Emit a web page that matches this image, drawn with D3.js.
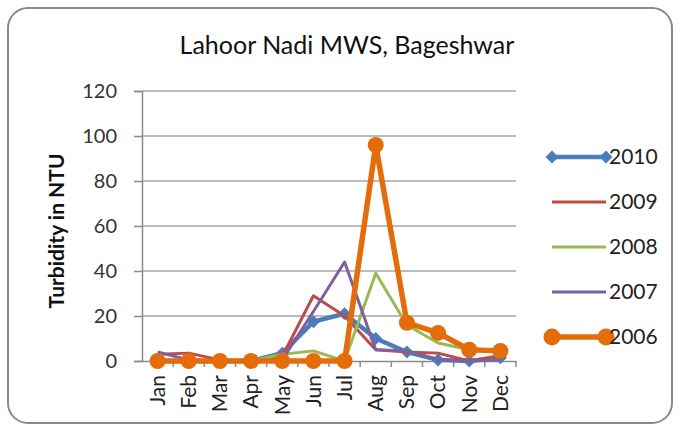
<!DOCTYPE html>
<html>
<head>
<meta charset="utf-8">
<script src="https://cdn.jsdelivr.net/npm/d3@7"></script>
<style>
  html, body { margin: 0; padding: 0; background: #fff; }
  svg { display: block; font-family: Lato, "Open Sans", sans-serif; }
</style>
</head>
<body>
<svg id="chart" width="681" height="428"></svg>
<script>
// Monthly turbidity (NTU)
const months = ['Jan', 'Feb', 'Mar', 'Apr', 'May', 'Jun', 'Jul', 'Aug', 'Sep', 'Oct', 'Nov', 'Dec'];
const yTicks = [0, 20, 40, 60, 80, 100, 120];

const v2010 = [0, 0, 0, 0, 3.5, 17.5, 21, 10, 4, 0.5, 0, 1.5];
const v2009 = [3, 3.5, 0.5, 0, 2, 29, 20, 5, 4, 3.5, 0, 2.5];
const v2008 = [0, 0, 0, 0, 3, 4.5, 0, 39, 16, 8, 5, 4];
const v2007 = [4, 0.5, 0, 0, 0.5, 22, 44, 5, 4.5, 0.5, 0, 0.5];
const v2006 = [0, 0, 0, 0, 0, 0, 0, 96, 17, 12.5, 5, 4.5];

const series = [
  { name: '2010', values: v2010, color: '#4a7ebb', width: 4.5, marker: 'diamond' },
  { name: '2009', values: v2009, color: '#be4b48', width: 3, marker: null },
  { name: '2008', values: v2008, color: '#98b954', width: 3, marker: null },
  { name: '2007', values: v2007, color: '#7d60a0', width: 3, marker: null },
  { name: '2006', values: v2006, color: '#e46c0a', width: 5.5, marker: 'circle' }
];

const svg = d3.select('#chart');
const m = { l: 142, r: 516, t: 91, b: 361 };
const font = 'Lato, "Open Sans", sans-serif';

// rounded frame
svg.append('rect')
  .attr('x', 8).attr('y', 8).attr('width', 664).attr('height', 415)
  .attr('rx', 20).attr('ry', 20)
  .attr('fill', '#fff').attr('stroke', '#8a8a8a').attr('stroke-width', 2);

svg.append('text')
  .attr('x', 347).attr('y', 54)
  .attr('text-anchor', 'middle')
  .attr('font-size', 25).attr('fill', '#111')
  .text('Lahoor Nadi MWS, Bageshwar');

const x = d3.scaleBand().domain(months).range([m.l, m.r]);
const y = d3.scaleLinear().domain([0, 120]).range([m.b, m.t]);

// gridlines
svg.append('g').selectAll('line')
  .data(yTicks.filter(d => d > 0))
  .join('line')
  .attr('x1', m.l).attr('x2', m.r)
  .attr('y1', d => y(d)).attr('y2', d => y(d))
  .attr('stroke', '#a6a6a6').attr('stroke-width', 1.5);

// y axis
const yAxis = svg.append('g')
  .attr('transform', `translate(${m.l},0)`)
  .call(d3.axisLeft(y).tickValues(yTicks).tickSize(8).tickPadding(17));
yAxis.select('.domain').attr('stroke', '#8a8a8a').attr('stroke-width', 1.5);
yAxis.selectAll('line').attr('stroke', '#8a8a8a').attr('stroke-width', 1.5);
yAxis.selectAll('text').attr('font-size', 20).attr('fill', '#333')
  .attr('font-family', font);

// x axis
const xAxis = svg.append('g')
  .attr('transform', `translate(0,${m.b})`)
  .call(d3.axisBottom(x).tickSize(0).tickPadding(0));
xAxis.select('.domain').attr('stroke', '#8a8a8a').attr('stroke-width', 1.5);
xAxis.selectAll('text')
  .attr('font-size', 21).attr('fill', '#222')
  .attr('font-family', font)
  .attr('transform', 'rotate(-90)')
  .attr('text-anchor', 'end')
  .attr('dy', '0.35em')
  .attr('x', -14).attr('y', 0);
// tick marks between categories
svg.append('g').selectAll('line')
  .data(months)
  .join('line')
  .attr('x1', d => x(d) + x.bandwidth())
  .attr('x2', d => x(d) + x.bandwidth())
  .attr('y1', m.b).attr('y2', m.b + 6)
  .attr('stroke', '#8a8a8a').attr('stroke-width', 1.5);

svg.append('text')
  .attr('transform', `translate(64,231) rotate(-90)`)
  .attr('text-anchor', 'middle')
  .attr('font-size', 21).attr('font-weight', 'bold').attr('fill', '#111')
  .text('Turbidity in NTU');

// series lines
const line = d3.line()
  .x((d, i) => x(months[i]) + x.bandwidth() / 2)
  .y(d => y(d));

const diamond = 'M0,-6.5L6.5,0L0,6.5L-6.5,0Z';

series.forEach(s => {
  const g = svg.append('g');
  g.append('path')
    .datum(s.values)
    .attr('d', line)
    .attr('fill', 'none')
    .attr('stroke', s.color)
    .attr('stroke-width', s.width)
    .attr('stroke-linejoin', 'round');
  if (s.marker === 'circle') {
    g.selectAll('circle').data(s.values).join('circle')
      .attr('cx', (d, i) => x(months[i]) + x.bandwidth() / 2)
      .attr('cy', d => y(d))
      .attr('r', 8)
      .attr('fill', s.color);
  } else if (s.marker === 'diamond') {
    g.selectAll('path.mk').data(s.values).join('path')
      .attr('class', 'mk')
      .attr('d', diamond)
      .attr('transform', (d, i) => `translate(${x(months[i]) + x.bandwidth() / 2},${y(d)})`)
      .attr('fill', s.color);
  }
});

// legend
const legend = svg.append('g');
series.forEach((s, i) => {
  const ly = 157 + i * 45;
  const g = legend.append('g');
  g.append('line')
    .attr('x1', 552).attr('x2', 606)
    .attr('y1', ly).attr('y2', ly)
    .attr('stroke', s.color).attr('stroke-width', s.width);
  if (s.marker === 'circle') {
    [552, 606].forEach(cx => g.append('circle').attr('cx', cx).attr('cy', ly).attr('r', 8.5).attr('fill', s.color));
  } else if (s.marker === 'diamond') {
    [552, 606].forEach(cx => g.append('path').attr('d', diamond).attr('transform', `translate(${cx},${ly})`).attr('fill', s.color));
  }
  g.append('text')
    .attr('x', 609).attr('y', ly).attr('dy', '0.35em')
    .attr('font-size', 21).attr('fill', '#222')
    .text(s.name);
});
</script>
</body>
</html>
